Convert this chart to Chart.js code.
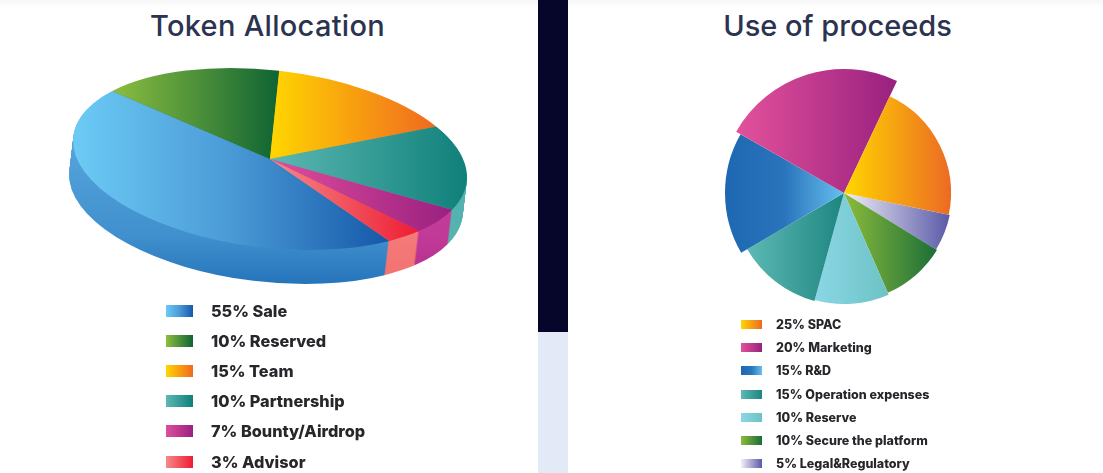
<!DOCTYPE html>
<html>
<head>
<meta charset="utf-8">
<title>Token Allocation and Use of proceeds</title>
<script src="https://cdn.jsdelivr.net/npm/chart.js@4"></script>
<style>
  html, body { margin: 0; padding: 0; background: #fff; }
  body { position: relative; width: 1103px; height: 473px; overflow: hidden; font-family: "Inter", "Open Sans", sans-serif; color: #26262b; }
  #top-shade { position: absolute; left: 0; top: 0; width: 1103px; height: 8px; background: linear-gradient(#f7f7f7, #fff); }
  #strip-dark { position: absolute; left: 538px; top: 0; width: 30px; height: 332px; background: #06062a; }
  #strip-light { position: absolute; left: 538px; top: 332px; width: 30px; height: 141px; background: #e3e9f6; }
  h1 { position: absolute; margin: 0; font-size: 29px; font-weight: 450; color: #2b3350; white-space: nowrap; transform: translateX(-50%); line-height: 34px; }
  #title-left { left: 267.5px; top: 9px; letter-spacing: 0.3px; }
  #title-right { left: 837.5px; top: 9px; }
  #canvas-left-box { position: absolute; left: 0; top: -41px; width: 540px; height: 400px; }
  #canvas-right-box { position: absolute; left: 714px; top: 63px; width: 260px; height: 260px; }
  .legend { position: absolute; margin: 0; padding: 0; list-style: none; font-weight: 800; white-space: nowrap; }
  .legend li { display: flex; align-items: center; }
  .legend i { display: block; flex: none; }
  #legend-left { left: 166px; top: 295.5px; font-size: 16.3px; }
  #legend-left li { height: 30.2px; }
  #legend-left i { width: 27px; height: 12px; margin-right: 18px; }
  #legend-right { left: 741px; top: 312.5px; font-size: 12.5px; }
  #legend-right li { height: 23.3px; }
  #legend-right i { width: 21px; height: 9px; margin-right: 14px; }
</style>
</head>
<body>
<div id="top-shade"></div>
<div id="strip-dark"></div>
<div id="strip-light"></div>
<h1 id="title-left">Token Allocation</h1>
<h1 id="title-right">Use of proceeds</h1>
<div id="canvas-left-box"><canvas id="chart-left" width="540" height="400"></canvas></div>
<div id="canvas-right-box"><canvas id="chart-right" width="260" height="260"></canvas></div>
<ul class="legend" id="legend-left"></ul>
<ul class="legend" id="legend-right"></ul>
<script>
'use strict';
let allocationLabels = ['55% Sale', '10% Reserved', '15% Team', '10% Partnership', '7% Bounty/Airdrop', '3% Advisor'];
let allocationSweep = [164.1, 55.9, 54.9, 54.8, 18.4, 11.9];

// right chart data, listed in legend order (slices run the other way round)
let proceedsLabels = ['25% SPAC', '20% Marketing', '15% R&D', '15% Operation expenses', '10% Reserve', '10% Secure the platform', '5% Legal&Regulatory'];
let proceedsSweep = [76.4, 85.7, 59.8, 44.5, 39, 34.8, 19.8];
let proceedsLength = [107, 124, 119, 112, 111, 109, 108];

// colours, left to right on screen
let allocationColors = [
  ['#6ccbf5', '#4a9ad6', '#1558a8'],
  ['#8cbe3f', '#0f6434'],
  ['#ffd600', '#f0691f'],
  ['#5db8b3', '#10807a'],
  ['#df4e9c', '#9a2080'],
  ['#f48a8a', '#ee1c33']
];
// rim colours, top to bottom on screen
let allocationRim = [
  ['#55a5dc', '#4b9ad5', '#4090ce', '#2675bb'],
  ['#2f7f3f', '#2f7f3f'],
  ['#f0a020', '#f0a020'],
  ['#4eb0ad', '#5ab5b0'],
  ['#c53d9b', '#c53d9b', '#c23a98', '#b22d8c'],
  ['#f47a7a', '#f47a7a', '#f47a7a', '#f47070']
];
let proceedsColors = [
  ['#ffd600', '#ec6a24'],
  ['#e4519b', '#98217f'],
  ['#1e67b2', '#2a74bc', '#66c0ee'],
  ['#5db9b4', '#1e8580'],
  ['#8bd6e6', '#6cc3c3'],
  ['#8cbb3c', '#1b6e38'],
  ['#f2f0f8', '#5a5aa8']
];

// the tilt of the left pie
const tilt = 6.6 * Math.PI / 180;
const squash = 0.448;
const depth = 34;
const depthShift = -4;
const leftRadius = 198;
const leftStart = 139.7;
// rim gradient runs over this range around the pie centre
const rimTop = -20;
const rimBottom = 125;

function toRad(deg) {
  return (deg - 90) * Math.PI / 180;
}

// how far a slice reaches left and right of the centre, after xA/xB is applied
function sliceSpan(start, sweep, radius, xA, xB) {
  let min = 0;
  let max = 0;
  for (let i = 0; i <= 60; i++) {
    let a = toRad(start + sweep * i / 60);
    let x = radius * (Math.cos(a) * xA + Math.sin(a) * xB);
    if (x < min) min = x;
    if (x > max) max = x;
  }
  return [min, max];
}

function addStops(grad, stops) {
  stops.forEach(function (c, i) {
    grad.addColorStop(i / (stops.length - 1), c);
  });
  return grad;
}

function cumulative(sweeps, start, index) {
  let total = start;
  for (let i = 0; i < index; i++) {
    total += sweeps[i];
  }
  return total;
}

// left pie: gradient vector is chosen so its bands stay upright on screen after the tilt
function allocationFill(context) {
  let chart = context.chart;
  let area = chart.chartArea;
  if (!area) return allocationColors[context.dataIndex][0];
  let cx = (area.left + area.right) / 2;
  let cy = (area.top + area.bottom) / 2;
  let a = Math.cos(tilt);
  let c = -squash * Math.sin(tilt);
  let n = a * a + c * c;
  let i = context.dataIndex;
  let span = sliceSpan(cumulative(allocationSweep, leftStart, i), allocationSweep[i], leftRadius, a, c);
  let grad = chart.ctx.createLinearGradient(
    cx + span[0] * a / n, cy + span[0] * c / n,
    cx + span[1] * a / n, cy + span[1] * c / n
  );
  return addStops(grad, allocationColors[i]);
}

// same idea for the rim, but bands are level on screen and follow the layer shift
function rimFill(ctx, chart, index, shiftY) {
  let area = chart.chartArea;
  let cx = (area.left + area.right) / 2;
  let cy = (area.top + area.bottom) / 2;
  let b = Math.sin(tilt);
  let d = squash * Math.cos(tilt);
  let n = b * b + d * d;
  let s0 = rimTop - shiftY;
  let s1 = rimBottom - shiftY;
  let grad = ctx.createLinearGradient(
    cx + s0 * b / n, cy + s0 * d / n,
    cx + s1 * b / n, cy + s1 * d / n
  );
  return addStops(grad, allocationRim[index]);
}

function applyTilt(ctx, chart, shiftX, shiftY) {
  let area = chart.chartArea;
  let cx = (area.left + area.right) / 2;
  let cy = (area.top + area.bottom) / 2;
  ctx.translate(cx + shiftX, cy + shiftY);
  ctx.rotate(tilt);
  ctx.scale(1, squash);
  ctx.translate(-cx, -cy);
}

// draws the rim out of stacked copies of the arcs, then leaves the tilt on for the top face
const tiltPlugin = {
  id: 'tiltPlugin',
  beforeDatasetsDraw(chart) {
    let ctx = chart.ctx;
    let arcs = chart.getDatasetMeta(0).data;
    for (let layer = depth; layer >= 1; layer--) {
      ctx.save();
      applyTilt(ctx, chart, depthShift * layer / depth, layer);
      for (let i = 0; i < arcs.length; i++) {
        let saved = arcs[i].options;
        arcs[i].options = Object.assign({}, saved, { backgroundColor: rimFill(ctx, chart, i, layer) });
        arcs[i].draw(ctx);
        arcs[i].options = saved;
      }
      ctx.restore();
    }
    ctx.save();
    applyTilt(ctx, chart, 0, 0);
  },
  afterDatasetsDraw(chart) {
    chart.ctx.restore();
  }
};

new Chart(document.getElementById('chart-left'), {
  type: 'pie',
  data: {
    labels: allocationLabels,
    datasets: [{
      data: allocationSweep,
      backgroundColor: allocationFill,
      borderWidth: 0,
      radius: leftRadius,
      clip: false
    }]
  },
  options: {
    responsive: false,
    animation: false,
    rotation: leftStart,
    plugins: { legend: { display: false }, tooltip: { enabled: false } }
  },
  plugins: [tiltPlugin]
});

// right pie: clockwise order is the legend order reversed, starting at the Legal slice
let clockLabels = proceedsLabels.slice().reverse();
let clockSweep = proceedsSweep.slice().reverse();
let clockLength = proceedsLength.slice().reverse();
let clockColors = proceedsColors.slice().reverse();
const rightStart = 101.7;

function proceedsFill(context) {
  let chart = context.chart;
  let scale = chart.scales.r;
  let i = context.dataIndex;
  if (!scale || !chart.chartArea) return clockColors[i][0];
  let span = sliceSpan(cumulative(clockSweep, rightStart, i), clockSweep[i], clockLength[i], 1, 0);
  let grad = chart.ctx.createLinearGradient(scale.xCenter + span[0], 0, scale.xCenter + span[1], 0);
  return addStops(grad, clockColors[i]);
}

new Chart(document.getElementById('chart-right'), {
  type: 'polarArea',
  data: {
    labels: clockLabels,
    datasets: [{
      data: clockLength,
      angle: function (context) { return clockSweep[context.dataIndex]; },
      backgroundColor: proceedsFill,
      borderWidth: 0
    }]
  },
  options: {
    responsive: false,
    animation: false,
    scales: {
      r: { display: false, min: 0, max: 130, startAngle: rightStart }
    },
    plugins: { legend: { display: false }, tooltip: { enabled: false } }
  }
});

// legends
function buildLegend(id, labels, colors) {
  let ul = document.getElementById(id);
  for (let i = 0; i < labels.length; i++) {
    let li = document.createElement('li');
    let box = document.createElement('i');
    box.style.background = 'linear-gradient(to right, ' + colors[i].join(', ') + ')';
    li.appendChild(box);
    li.appendChild(document.createTextNode(labels[i]));
    ul.appendChild(li);
  }
}
buildLegend('legend-left', allocationLabels, allocationColors);
buildLegend('legend-right', proceedsLabels, proceedsColors);
</script>
</body>
</html>
